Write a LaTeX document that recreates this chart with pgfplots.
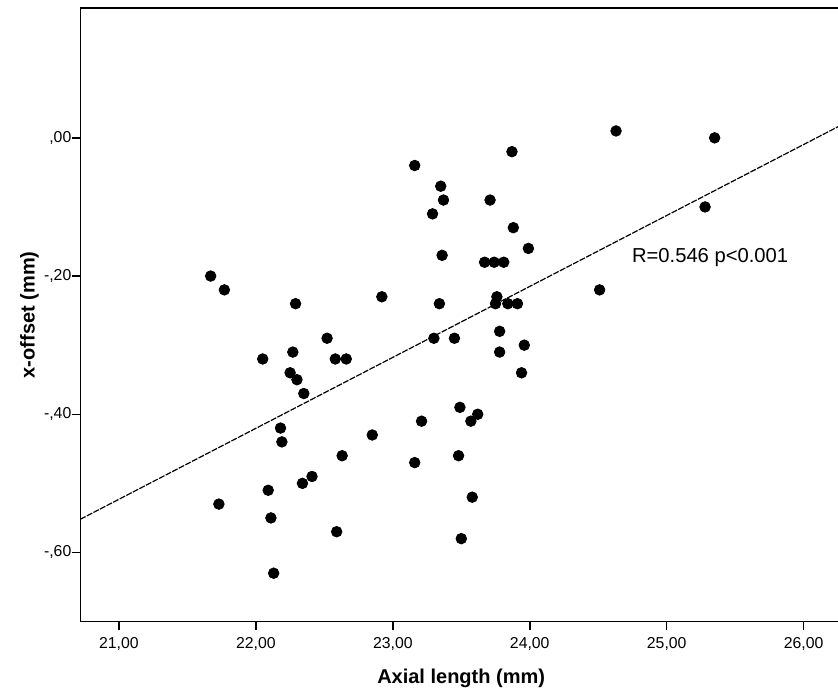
\documentclass[border=0pt]{standalone}
\usepackage{fontspec}
\setmainfont{Liberation Sans}
\usepackage{pgfplots}
\pgfplotsset{compat=1.18}
\begin{document}
\begin{tikzpicture}
\useasboundingbox (-40.15bp,-35.65bp) rectangle (378.85bp,310.85bp);
\begin{axis}[
  at={(0,0)}, anchor=south west,
  scale only axis, width=380.85bp, height=306.85bp,
  xmin=20.718, xmax=26.280, ymin=-0.7002, ymax=0.1879,
  clip=false,
  axis line style={line width=0.75bp, black},
  xtick={21,22,23,24,25,26},
  xticklabels={{21,00},{22,00},{23,00},{24,00},{25,00},{26,00}},
  ytick={-0.6,-0.4,-0.2,0},
  yticklabels={{-,60},{-,40},{-,20},{,00}},
  xtick pos=left, ytick pos=left,
  xtick align=outside, ytick align=outside,
  major tick length=4.3bp,
  every major tick/.append style={draw=black, line width=0.75bp},
  ticklabel style={font=\fontsize{7.9bp}{9bp}\selectfont},
  yticklabel style={inner xsep=0pt},
  every axis x label/.style={at={(axis description cs:0.5,-0.0999)}, anchor=base},
  every axis y label/.style={at={(axis description cs:-0.0601,0.5)}, rotate=90, anchor=base},
  label style={font=\fontsize{10bp}{12bp}\selectfont\bfseries},
  xlabel={Axial length (mm)},
  ylabel={x-offset (mm)},
]
% tick marks, outside the box
\pgfplotsinvokeforeach{21,22,23,24,25,26}{
  \draw[black, line width=0.75bp] (axis cs:#1,-0.7002) -- ++(0pt,-4.3bp);
}
\pgfplotsinvokeforeach{-0.6,-0.4,-0.2,0}{
  \draw[black, line width=0.75bp] (axis cs:20.718,#1) -- ++(-4.3bp,0pt);
}
% fit line
\addplot[black, line width=0.6bp, dash pattern=on 3bp off 0.7bp] coordinates {(20.718,-0.552) (26.280,0.0191)};
% observations
\addplot[only marks, mark=*, mark size=2.65bp, mark options={fill=black, draw=black}] coordinates {
(24.63,0.01) (25.35,0.00) (23.87,-0.02) (23.16,-0.04) (23.35,-0.07)
(23.37,-0.09) (23.71,-0.09) (23.29,-0.11) (25.28,-0.10) (23.88,-0.13)
(23.99,-0.16) (23.36,-0.17) (23.67,-0.18) (23.74,-0.18) (23.81,-0.18)
(21.67,-0.20) (21.77,-0.22) (24.51,-0.22) (22.92,-0.23) (23.76,-0.23)
(22.29,-0.24) (23.34,-0.24) (23.75,-0.24) (23.84,-0.24) (23.91,-0.24)
(23.78,-0.28) (22.52,-0.29) (23.30,-0.29) (23.45,-0.29) (23.96,-0.30)
(22.27,-0.31) (23.78,-0.31) (22.05,-0.32) (22.58,-0.32) (22.66,-0.32)
(22.25,-0.34) (23.94,-0.34) (22.30,-0.35) (22.35,-0.37) (23.49,-0.39)
(23.62,-0.40) (23.57,-0.41) (23.21,-0.41) (22.18,-0.42) (22.85,-0.43)
(22.19,-0.44) (22.63,-0.46) (23.48,-0.46) (23.16,-0.47) (22.41,-0.49)
(22.34,-0.50) (22.09,-0.51) (23.58,-0.52) (21.73,-0.53) (22.11,-0.55)
(22.59,-0.57) (23.50,-0.58) (22.13,-0.63)
};
\node[anchor=base west, inner sep=0pt, font=\fontsize{10.1bp}{12bp}\selectfont] at (axis cs:24.744,-0.1807) {R=0.546 p<0.001};
\end{axis}
\end{tikzpicture}
\end{document}
